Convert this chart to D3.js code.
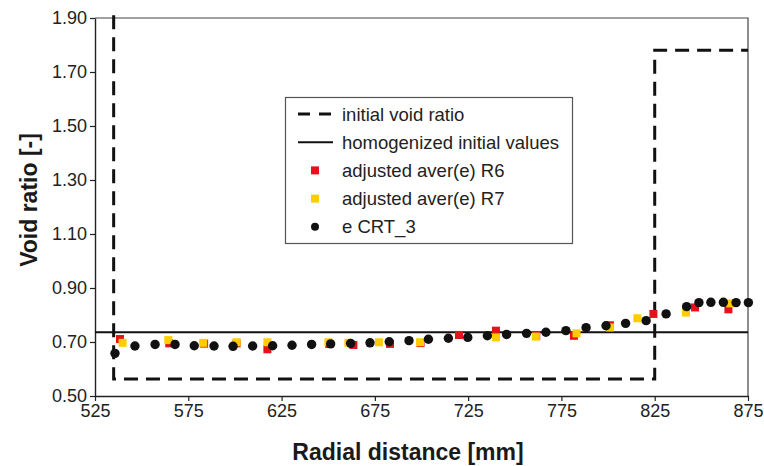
<!DOCTYPE html>
<html lang="en">
<head>
  <meta charset="utf-8">
  <title>Void ratio vs radial distance</title>
  <script src="https://d3js.org/d3.v7.min.js"></script>
<style>
body{
  margin:0px;
  background-color:#fff;
  overflow:hidden;
}
svg text{font-family:"Liberation Sans", Arial, sans-serif;}
</style>
</head>
<body>
  <svg width="764" height="466"></svg>

<script>

// initial void ratio (step profile)
var initX = [535, 535, 825, 825, 875];
var initY = [1.91, 0.563, 0.563, 1.781, 1.781];

// homogenized initial value
var homogX = [525, 875];
var homogY = [0.736, 0.736];

// adjusted aver(e) R6
var r6X = [538.4, 564.8, 583.5, 600.9, 617.4, 650.5, 663.5, 683.1, 699.5, 720.1, 739.9, 761.5, 781.7, 801.0, 824.3, 846.6, 864.5];
var r6Y = [0.711, 0.695, 0.694, 0.695, 0.673, 0.693, 0.689, 0.693, 0.696, 0.726, 0.742, 0.722, 0.723, 0.762, 0.804, 0.828, 0.821];

// adjusted aver(e) R7
var r7X = [539.8, 564.3, 583.0, 600.9, 617.4, 650.1, 660.8, 677.2, 699.2, 739.9, 761.3, 783.1, 801.0, 815.7, 841.8, 865.4];
var r7Y = [0.697, 0.707, 0.697, 0.699, 0.699, 0.699, 0.697, 0.699, 0.699, 0.717, 0.720, 0.732, 0.754, 0.788, 0.809, 0.843];

// e CRT_3
var crtX = [535.7, 546.4, 557.2, 567.9, 578.2, 588.8, 599.0, 609.5, 620.2, 630.6, 641.1, 651.3, 662.0, 672.4, 682.7, 693.3, 703.7, 714.4, 724.8, 735.3, 745.6, 756.3, 766.7, 777.4, 788.2, 798.9, 809.4, 820.4, 831.1, 842.1, 848.7, 855.1, 861.8, 868.6, 875.2];
var crtY = [0.658, 0.685, 0.691, 0.691, 0.686, 0.685, 0.684, 0.685, 0.686, 0.688, 0.691, 0.693, 0.695, 0.697, 0.701, 0.705, 0.710, 0.714, 0.717, 0.723, 0.728, 0.732, 0.736, 0.742, 0.753, 0.760, 0.769, 0.779, 0.804, 0.831, 0.846, 0.847, 0.847, 0.846, 0.846];

var xTicks = [525, 575, 625, 675, 725, 775, 825, 875];
var yTicks = [0.50, 0.70, 0.90, 1.10, 1.30, 1.50, 1.70, 1.90];

var legendLabels = ["initial void ratio", "homogenized initial values", "adjusted aver(e) R6", "adjusted aver(e) R7", "e CRT_3"];

var red = "#e3121b", yellow = "#ffcc00", black = "#111";

var svg = d3.select("svg");
var plotLeft = 95, plotRight = 748, plotTop = 18, plotBottom = 396;

var x = d3.scaleLinear().domain([525, 875]).range([plotLeft, plotRight]);
var y = d3.scaleLinear().domain([0.5, 1.9]).range([plotBottom, plotTop]);

// frame (top and right)
svg.append("path")
  .attr("d", "M" + plotLeft + "," + plotTop + "H" + plotRight + "V" + plotBottom)
  .attr("fill", "none")
  .attr("stroke", "#444")
  .attr("stroke-width", 1.2);

// axes
var xAxis = svg.append("g")
  .attr("transform", "translate(0," + plotBottom + ")")
  .call(d3.axisBottom(x).tickValues(xTicks).tickSize(5).tickSizeOuter(0).tickPadding(3));
var yAxis = svg.append("g")
  .attr("transform", "translate(" + plotLeft + ",0)")
  .call(d3.axisLeft(y).tickValues(yTicks).tickFormat(d3.format(".2f")).tickSize(5).tickSizeOuter(0).tickPadding(3));

[xAxis, yAxis].forEach(function(g){
  g.select(".domain").attr("stroke", "#222").attr("stroke-width", 1.4);
  g.selectAll(".tick line").attr("stroke", "#222").attr("stroke-width", 1.2);
  g.selectAll(".tick text").attr("fill", "#222").style("font-size", "18px");
});

// axis titles
svg.append("text")
  .attr("x", 408)
  .attr("y", 460)
  .attr("text-anchor", "middle")
  .style("font-size", "23px")
  .style("font-weight", "bold")
  .attr("fill", "#1a1a1a")
  .text("Radial distance [mm]");

svg.append("text")
  .attr("transform", "translate(37,200) rotate(-90)")
  .attr("text-anchor", "middle")
  .style("font-size", "23px")
  .style("font-weight", "bold")
  .attr("fill", "#1a1a1a")
  .text("Void ratio [-]");

var line = d3.line()
  .x(function(d){ return x(d[0]); })
  .y(function(d){ return y(d[1]); });

// homogenized line
svg.append("path")
  .datum(d3.zip(homogX, homogY))
  .attr("d", line)
  .attr("fill", "none")
  .attr("stroke", "#111")
  .attr("stroke-width", 2);

// initial void ratio dashed
svg.append("path")
  .datum(d3.zip(initX, initY))
  .attr("d", line)
  .attr("fill", "none")
  .attr("stroke", "#111")
  .attr("stroke-width", 3)
  .attr("stroke-dasharray", "14,8");

var sq = 8;
function squares(xs, ys, col){
  svg.append("g").selectAll("rect")
    .data(d3.zip(xs, ys))
    .enter().append("rect")
      .attr("x", function(d){ return x(d[0]) - sq / 2; })
      .attr("y", function(d){ return y(d[1]) - sq / 2; })
      .attr("width", sq)
      .attr("height", sq)
      .attr("fill", col);
}
squares(r6X, r6Y, red);
squares(r7X, r7Y, yellow);

svg.append("g").selectAll("circle")
  .data(d3.zip(crtX, crtY))
  .enter().append("circle")
    .attr("cx", function(d){ return x(d[0]); })
    .attr("cy", function(d){ return y(d[1]); })
    .attr("r", 4.7)
    .attr("fill", black);

// legend
var lg = svg.append("g");
lg.append("rect")
  .attr("x", 285.5).attr("y", 97.5)
  .attr("width", 287).attr("height", 146)
  .attr("fill", "#fff")
  .attr("stroke", "#555")
  .attr("stroke-width", 1.2);

legendLabels.forEach(function(label, i){
  var cy = 114 + i * 28.2;
  if (i == 0) {
    lg.append("line").attr("x1", 298).attr("x2", 333).attr("y1", cy).attr("y2", cy)
      .attr("stroke", "#111").attr("stroke-width", 3).attr("stroke-dasharray", "12,9");
  } else if (i == 1) {
    lg.append("line").attr("x1", 298).attr("x2", 333).attr("y1", cy).attr("y2", cy)
      .attr("stroke", "#111").attr("stroke-width", 2);
  } else if (i == 4) {
    lg.append("circle").attr("cx", 315).attr("cy", cy).attr("r", 4).attr("fill", black);
  } else {
    lg.append("rect").attr("x", 311).attr("y", cy - 4).attr("width", 8).attr("height", 8)
      .attr("fill", i == 2 ? red : yellow);
  }
  lg.append("text")
    .attr("x", 342)
    .attr("y", cy + 6.5)
    .style("font-size", "18.5px")
    .attr("fill", "#222")
    .text(label);
});

</script>
</body>
</html>
